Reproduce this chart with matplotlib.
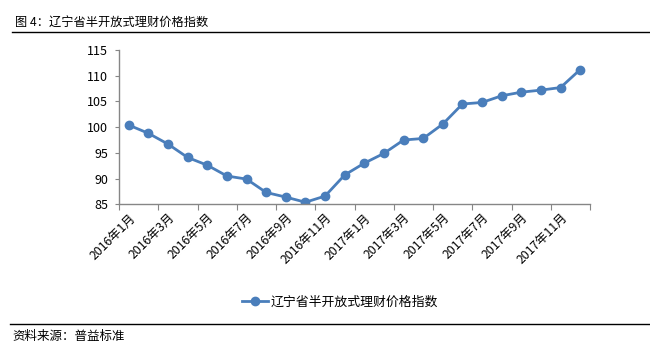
import matplotlib
matplotlib.use('Agg')
import matplotlib.pyplot as plt
from matplotlib.lines import Line2D

plt.rcParams['font.family'] = ['Noto Sans CJK SC', 'DejaVu Sans']

# 数据
months = [f'{y}年{m}月' for y in (2016, 2017) for m in range(1, 13)]
index_values = [100.4, 98.8, 96.7, 94.1, 92.6, 90.5, 89.9, 87.3, 86.4, 85.4, 86.6, 90.7,
                93.0, 94.9, 97.5, 97.8, 100.6, 104.5, 104.8, 106.1, 106.8, 107.2, 107.7, 111.2]
series_name = '辽宁省半开放式理财价格指数'
title = '图 4：辽宁省半开放式理财价格指数'
source = '资料来源：普益标准'

W, H = 650, 358
fig = plt.figure(figsize=(W / 100, H / 100), dpi=100)
ax = fig.add_axes([119 / W, 1 - 204.3 / H, (590 - 119) / W, (204.3 - 50) / H])

color = '#4a7ebb'
x = list(range(len(months)))
ax.plot(x, index_values, color=color, lw=2, marker='o', ms=6, label=series_name)

ax.set_xlim(-0.5, len(months) - 0.5)
ax.set_ylim(85, 115)
ax.set_yticks(range(85, 116, 5))

# 类别轴：刻度线在类别之间，标签每隔一个
ax.set_xticks([i - 0.5 for i in range(0, len(months) + 1, 2)])
ax.set_xticklabels([])
ax.set_xticks(x[::2], minor=True)
ax.set_xticklabels(months[::2], minor=True, rotation=45, ha='right', va='top',
                   rotation_mode='anchor', fontsize=8.8)
ax.tick_params(axis='x', which='minor', length=0, pad=5)
ax.tick_params(axis='x', which='major', length=4, color='#868686')
ax.tick_params(axis='y', length=3, color='#868686', labelsize=9, pad=5)

for s in ('top', 'right'):
    ax.spines[s].set_visible(False)
for s in ('left', 'bottom'):
    ax.spines[s].set_color('#868686')
    ax.spines[s].set_linewidth(1)

# 图例
handle = Line2D([], [], color=color, lw=2, marker='o', ms=6)
fig.legend([handle], [series_name], loc='center', bbox_to_anchor=(340 / W, 1 - 302 / H),
           frameon=False, fontsize=9.3, handlelength=2.0, handletextpad=0.2)

# 标题与来源
fig.text(15 / W, 1 - 22 / H, title, fontsize=8.8, fontweight='medium', va='center', ha='left')
fig.add_artist(Line2D([12 / W, 1], [1 - 32 / H, 1 - 32 / H], color='black', lw=1))
fig.add_artist(Line2D([10 / W, 1], [1 - 324 / H, 1 - 324 / H], color='black', lw=1))
fig.text(12 / W, 1 - 336 / H, source, fontsize=9, va='center', ha='left')

fig.savefig('out.png', dpi=100)
